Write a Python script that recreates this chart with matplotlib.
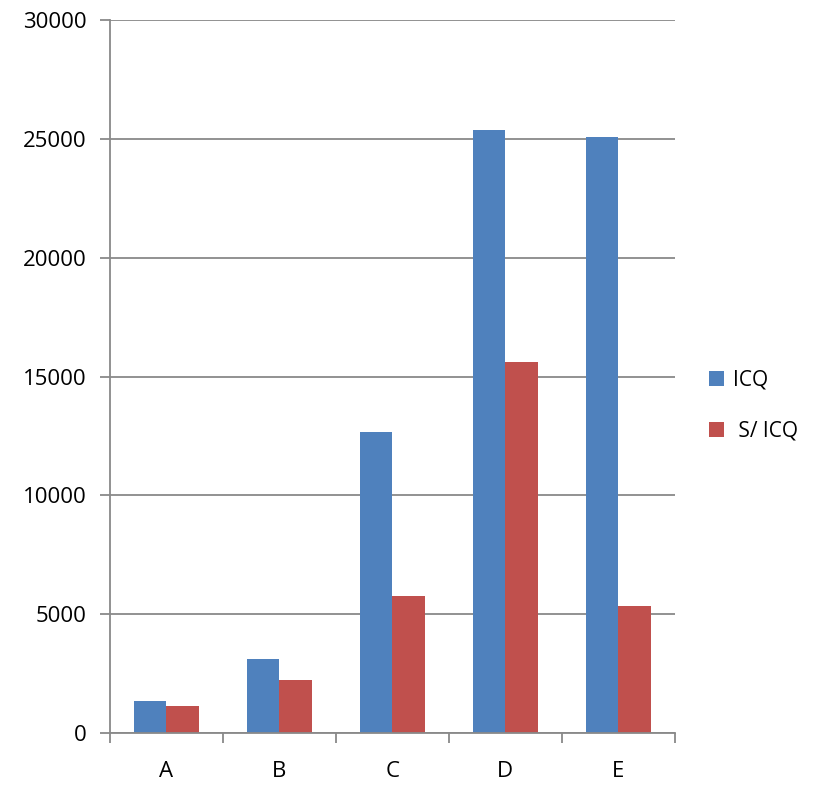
import matplotlib.pyplot as plt
import numpy as np

# data
categories = ['A', 'B', 'C', 'D', 'E']
icq = [1360, 3100, 12650, 25380, 25060]
s_icq = [1120, 2230, 5750, 15590, 5330]

plt.rcParams['font.family'] = ['Open Sans', 'DejaVu Sans']
grey = '#898989'

fig = plt.figure(figsize=(8.24, 7.88), dpi=100)
ax = fig.add_axes([0.1335, 0.0698, 0.6855, 0.9048])

x = np.arange(len(categories))
w = 1 / 3.5
ax.bar(x - w / 2, icq, w, color='#4F81BD', label='ICQ')
ax.bar(x + w / 2, s_icq, w, color='#C0504D', label=' S/ ICQ')

ax.set_xlim(-0.5, len(categories) - 0.5)
ax.set_ylim(0, 30000)
ax.set_yticks(range(0, 30001, 5000))
ax.yaxis.grid(True, color=grey, linewidth=1.3)
ax.set_axisbelow(True)

# category ticks between groups, labels centred
ax.set_xticks(np.arange(-0.5, len(categories)), minor=False)
ax.set_xticklabels([])
ax.set_xticks(x, minor=True)
ax.set_xticklabels(categories, minor=True)
ax.tick_params(axis='x', which='minor', length=0, pad=20, labelsize=16)
ax.tick_params(axis='x', which='major', length=7, width=1.3, color=grey)
ax.tick_params(axis='y', length=7, width=1.3, color=grey, labelsize=16, pad=10)

for s in ['top', 'right']:
    ax.spines[s].set_visible(False)
for s in ['left', 'bottom']:
    ax.spines[s].set_color(grey)
    ax.spines[s].set_linewidth(1.3)

fig.legend(loc='center left', bbox_to_anchor=(0.86, 0.485), frameon=False,
           fontsize=15, handlelength=0.75, handleheight=0.75, handletextpad=0.4,
           labelspacing=1.45, borderaxespad=0, borderpad=0)

plt.savefig('out.png', dpi=100)
